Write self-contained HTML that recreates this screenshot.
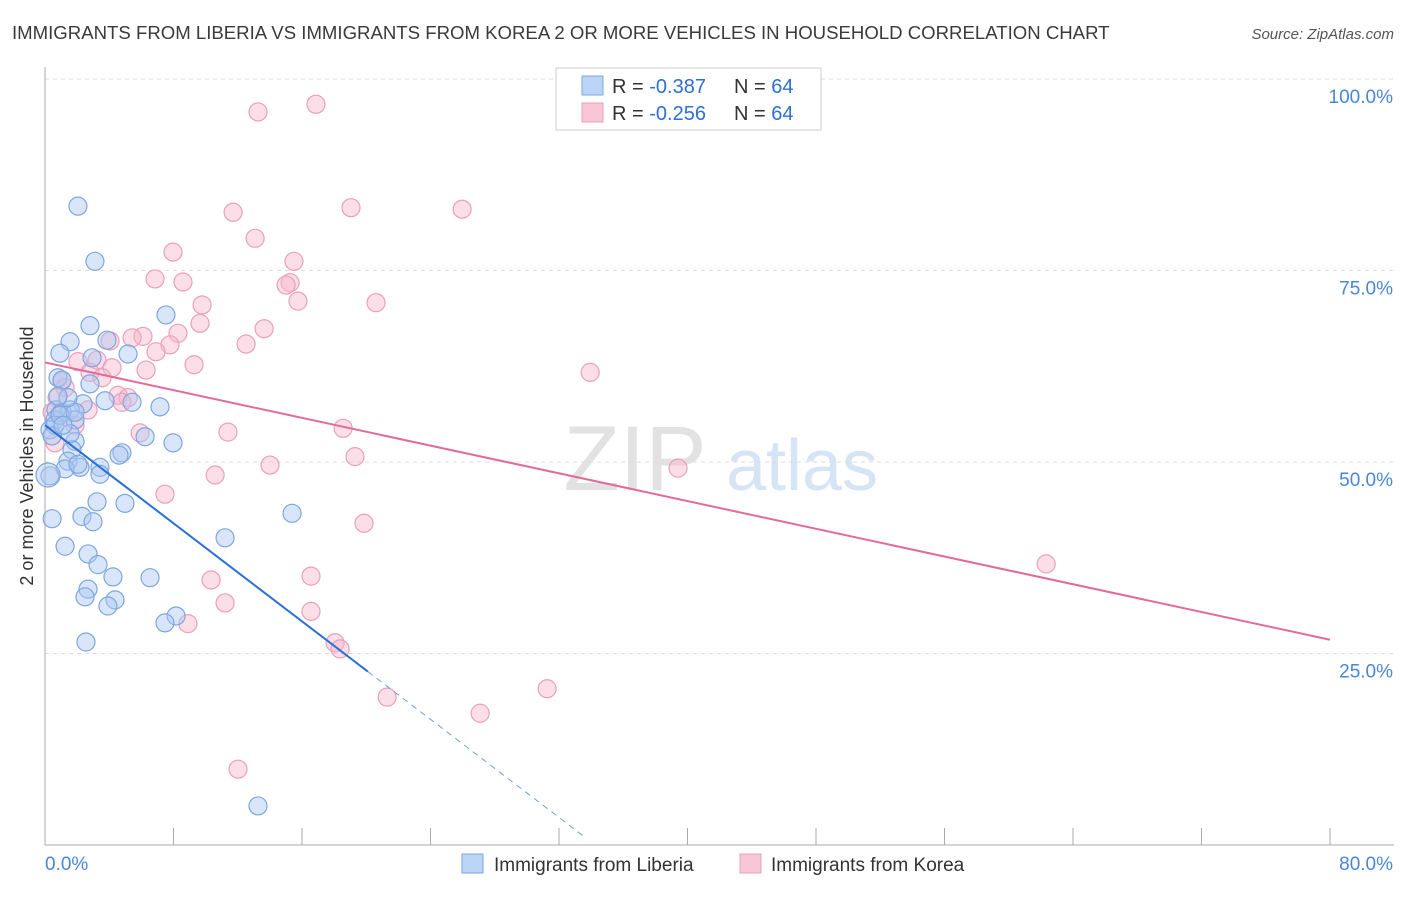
<!DOCTYPE html>
<html><head><meta charset="utf-8"><style>
body{margin:0;background:#fff;font-family:"Liberation Sans",sans-serif;}
svg text{font-family:"Liberation Sans",sans-serif;}
</style></head><body>
<svg id="chart" width="1406" height="892" xmlns="http://www.w3.org/2000/svg">
<text x="12" y="39" font-size="18.6" fill="#3a3a3a">IMMIGRANTS FROM LIBERIA VS IMMIGRANTS FROM KOREA 2 OR MORE VEHICLES IN HOUSEHOLD CORRELATION CHART</text>
<text x="1394" y="39" font-size="15" fill="#555" text-anchor="end" font-style="italic">Source: ZipAtlas.com</text>
<g><text x="635" y="490" font-size="92" fill="#e2e2e2" text-anchor="middle" font-family="Liberation Serif">ZIP</text><text x="802" y="490" font-size="72" fill="#d6e4f5" text-anchor="middle">atlas</text></g>
<g id="grid"></g><g id="axes"></g><g id="points"></g><g id="trends"></g>
<text transform="translate(33,456) rotate(-90)" font-size="18" fill="#333" text-anchor="middle">2 or more Vehicles in Household</text>
<g>
<rect x="556" y="68" width="265" height="62" fill="#fff" stroke="#ccc"/>
<rect x="582" y="76" width="21" height="19" fill="#bcd4f5" stroke="#7ea6e0"/>
<rect x="582" y="103" width="21" height="19" fill="#f9c6d6" stroke="#eba0b9"/>
<text x="612" y="93" font-size="20" fill="#333">R = <tspan fill="#2d6fd6">-0.387</tspan></text>
<text x="734" y="93" font-size="20" fill="#333">N = <tspan fill="#2d6fd6">64</tspan></text>
<text x="612" y="120" font-size="20" fill="#333">R = <tspan fill="#2d6fd6">-0.256</tspan></text>
<text x="734" y="120" font-size="20" fill="#333">N = <tspan fill="#2d6fd6">64</tspan></text>
</g>
<g>
<rect x="462" y="854" width="21" height="19" fill="#bcd4f5" stroke="#7ea6e0"/>
<text x="494" y="871" font-size="19" fill="#333">Immigrants from Liberia</text>
<rect x="740" y="854" width="21" height="19" fill="#f9c6d6" stroke="#eba0b9"/>
<text x="771" y="871" font-size="19" fill="#333">Immigrants from Korea</text>
</g>
</svg>
<script>
const blueX=[2.05,3.11,2.80,1.56,0.93,5.17,3.86,7.53,2.93,0.81,2.80,1.06,3.74,5.42,7.16,2.37,0.68,1.56,1.87,0.62,0.31,1.06,6.23,7.97,4.79,1.87,1.68,1.43,3.42,2.18,1.25,3.42,0.31,3.24,4.98,15.38,0.44,2.30,2.99,11.21,1.25,2.68,3.30,6.54,4.23,2.68,4.36,2.49,3.92,8.16,7.47,2.55,13.26,0.19,0.62,0.93,0.44,4.61,1.56,2.05,1.87,1.43,0.81,1.12];
const blueY=[83.4,76.2,67.8,65.7,64.2,64.1,65.9,69.2,63.6,61.0,60.2,60.7,58.0,57.8,57.2,57.6,56.8,56.8,55.5,55.5,54.2,56.5,53.3,52.5,51.2,52.7,51.6,50.1,49.3,49.3,49.1,48.4,48.2,44.8,44.6,43.3,42.6,42.9,42.2,40.1,39.0,38.0,36.6,34.9,35.0,33.4,32.0,32.4,31.2,29.9,29.0,26.5,5.1,48.3,54.8,56.1,53.4,50.9,53.7,49.7,56.5,58.4,58.6,54.8];
const pinkX=[16.87,13.26,19.05,25.97,11.71,13.08,7.97,6.85,8.59,15.50,15.26,15.01,15.75,20.61,9.78,9.65,13.64,8.28,6.10,5.42,12.52,7.78,6.91,4.05,3.24,2.05,9.28,6.29,2.80,4.17,3.55,1.06,1.25,33.94,4.55,5.17,4.79,0.75,2.68,0.93,1.87,18.56,11.39,5.92,0.62,19.30,14.01,39.41,10.59,7.47,19.86,16.56,10.34,11.21,16.56,8.90,18.06,18.37,21.30,31.26,27.09,62.33,12.02,0.44];
const pinkY=[96.7,95.7,83.2,83.0,82.6,79.2,77.4,73.9,73.5,76.2,73.4,73.1,71.0,70.8,70.5,68.1,67.4,66.8,66.4,66.2,65.4,65.3,64.4,65.8,63.3,63.1,62.7,62.0,61.7,62.3,61.0,60.6,59.7,61.7,58.7,58.4,57.8,58.4,56.8,56.4,54.8,54.4,53.9,53.8,52.5,50.7,49.6,49.2,48.3,45.8,42.0,35.1,34.6,31.6,30.5,28.9,26.4,25.6,19.3,20.4,17.2,36.7,9.9,56.5];
const blueTrend=[54.8,-1.6];
const pinkTrend=[63.0,-0.4525];
const yTicks=[25,50,75,100];
const yTickLabels=["25.0%","50.0%","75.0%","100.0%"];
const xTicks=[0,8,16,24,32,40,48,56,64,72,80];
const NS="http://www.w3.org/2000/svg";
const X0=45,X1=1330,Y0=845,Y100=79;
const sx=v=>X0+(X1-X0)*v/80, sy=v=>Y0-(Y0-Y100)*v/100;
function mk(tag,attrs,parent){const e=document.createElementNS(NS,tag);for(const k in attrs)e.setAttribute(k,attrs[k]);document.getElementById(parent).appendChild(e);return e;}
yTicks.forEach((t,i)=>{
 const g=mk('line',{x1:X0,x2:1394,y1:sy(t),y2:sy(t),stroke:'#ddd','stroke-dasharray':'4,4'},'grid');
 
 
 const l=mk('text',{x:1393,y:sy(t)+24,'font-size':19,fill:'#4a86d8','text-anchor':'end'},'grid');
 l.textContent=yTickLabels[i];
 
 
});
const ax=mk('line',{x1:X0,x2:X0,y1:67,y2:Y0,stroke:'#aaa'},'axes');


const bx=mk('line',{x1:X0,x2:1394,y1:Y0,y2:Y0,stroke:'#aaa'},'axes');


xTicks.forEach(t=>{const k=mk('line',{x1:sx(t),x2:sx(t),y1:828,y2:Y0,stroke:'#aaa'},'axes');
 
 });
const xl0=mk('text',{x:45,y:870,'font-size':19,fill:'#4a86d8'},'axes');xl0.textContent='0.0%';


const xl1=mk('text',{x:1393,y:870,'font-size':19,fill:'#4a86d8','text-anchor':'end'},'axes');xl1.textContent='80.0%';


function pts(xs,ys,fill,stroke,name){xs.forEach((x,i)=>{const c=mk('circle',{cx:sx(x),cy:sy(ys[i]),r:(x<0.25?12:9),fill:fill,stroke:stroke,'stroke-width':1.2},'points');
 
 });}
pts(pinkX,pinkY,'rgba(246,182,203,0.45)','#eba0b9','korea-point');
pts(blueX,blueY,'rgba(170,200,242,0.45)','#7ea6e0','liberia-point');
const bEnd=20.1,bDash=33.6;
const tb=mk('line',{x1:sx(0),y1:sy(blueTrend[0]),x2:sx(bEnd),y2:sy(blueTrend[0]+blueTrend[1]*bEnd),stroke:'#2a6fd8','stroke-width':2},'trends');


const td=mk('line',{x1:sx(bEnd),y1:sy(blueTrend[0]+blueTrend[1]*bEnd),x2:sx(bDash),y2:sy(blueTrend[0]+blueTrend[1]*bDash),stroke:'#6f9fe0','stroke-width':1,'stroke-dasharray':'6,5'},'trends');


const tp=mk('line',{x1:sx(0),y1:sy(pinkTrend[0]),x2:sx(80),y2:sy(pinkTrend[0]+pinkTrend[1]*80),stroke:'#e26b97','stroke-width':2},'trends');


</script>
</body></html>
